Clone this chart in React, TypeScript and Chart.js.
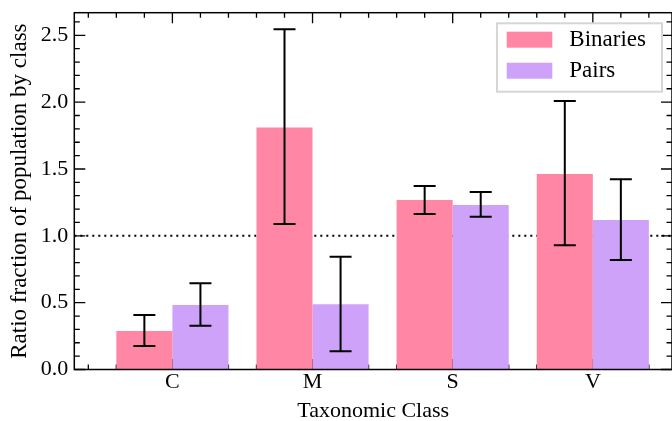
import { useEffect, useRef } from 'react';
import { Chart, registerables } from 'chart.js';

Chart.register(...registerables);

const categories = ['C', 'M', 'S', 'V'];
const seriesLabels = ['Binaries', 'Pairs'];
const binaries = [0.288, 1.81, 1.268, 1.462];
const binariesLow = [0.176, 1.088, 1.163, 0.929];
const binariesHigh = [0.408, 2.545, 1.372, 2.008];
const pairs = [0.482, 0.488, 1.23, 1.118];
const pairsLow = [0.328, 0.136, 1.143, 0.819];
const pairsHigh = [0.645, 0.844, 1.328, 1.423];
const yTicks = [0, 0.5, 1.0, 1.5, 2.0, 2.5];
const referenceLevel = 1.0;

const FONT = '"Liberation Serif", "Times New Roman", serif';
const PINK = '#FF86A4';
const PURPLE = '#CFA2FA';

export default function App() {
  const ref = useRef<HTMLCanvasElement>(null);

  useEffect(() => {
    const canvas = ref.current;
    if (!canvas) return;
    const errLow = [binariesLow, pairsLow];
    const errHigh = [binariesHigh, pairsHigh];

    const xTickList = (x: any) => {
      const out: [number, boolean][] = [];
      for (let k = Math.ceil(x.min * 5 - 1e-9); k <= Math.floor(x.max * 5 + 1e-9); k++) {
        out.push([k / 5, k % 5 === 0]);
      }
      return out;
    };
    const yTickList = (y: any) => {
      const out: [number, boolean][] = [];
      for (let k = 0; k <= Math.floor(y.max * 10 + 1e-9); k++) {
        out.push([k / 10, k % 5 === 0]);
      }
      return out;
    };

    const plugin = {
      id: 'sciencePlot',
      beforeDatasetsDraw(chart: any) {
        const { ctx, chartArea: a, scales } = chart;
        const x = scales.x;
        const y = scales.y;
        ctx.save();
        ctx.strokeStyle = '#000';
        ctx.beginPath();
        ctx.setLineDash([2, 4]);
        ctx.lineWidth = 2;
        const yy = y.getPixelForValue(referenceLevel);
        ctx.moveTo(a.left, yy);
        ctx.lineTo(a.right, yy);
        ctx.stroke();
        ctx.setLineDash([]);
        ctx.beginPath();
        ctx.lineWidth = 1.3;
        xTickList(x).forEach(([v, major]) => {
          const px = x.getPixelForValue(v);
          ctx.moveTo(px, a.bottom);
          ctx.lineTo(px, a.bottom - (major ? 10.5 : 5));
        });
        ctx.stroke();
        ctx.restore();
      },
      afterDatasetsDraw(chart: any) {
        const { ctx, chartArea: a, scales } = chart;
        const x = scales.x;
        const y = scales.y;
        ctx.save();
        ctx.strokeStyle = '#000';
        ctx.lineWidth = 2;
        chart.data.datasets.forEach((_: any, i: number) => {
          const meta = chart.getDatasetMeta(i);
          meta.data.forEach((bar: any, j: number) => {
            const lo = y.getPixelForValue(errLow[i][j]);
            const hi = y.getPixelForValue(errHigh[i][j]);
            ctx.beginPath();
            ctx.moveTo(bar.x, lo);
            ctx.lineTo(bar.x, hi);
            ctx.moveTo(bar.x - 11, lo);
            ctx.lineTo(bar.x + 11, lo);
            ctx.moveTo(bar.x - 11, hi);
            ctx.lineTo(bar.x + 11, hi);
            ctx.stroke();
          });
        });
        ctx.beginPath();
        ctx.lineWidth = 1.3;
        xTickList(x).forEach(([v, major]) => {
          const px = x.getPixelForValue(v);
          ctx.moveTo(px, a.top);
          ctx.lineTo(px, a.top + (major ? 10.5 : 5));
        });
        yTickList(y).forEach(([v, major]) => {
          const py = y.getPixelForValue(v);
          const len = major ? 11 : 5.5;
          ctx.moveTo(a.left, py);
          ctx.lineTo(a.left + len, py);
          ctx.moveTo(a.right, py);
          ctx.lineTo(a.right - len, py);
        });
        ctx.stroke();
        ctx.lineWidth = 1.5;
        ctx.strokeRect(a.left, a.top, a.right - a.left, a.bottom - a.top);
        const lw = 165;
        const lh = 68.4;
        const lx = a.right - 10 - lw;
        const ly = a.top + 10.6;
        ctx.fillStyle = '#fff';
        ctx.fillRect(lx, ly, lw, lh);
        ctx.strokeStyle = '#d6d6d6';
        ctx.lineWidth = 2;
        ctx.strokeRect(lx, ly, lw, lh);
        ctx.font = `23px ${FONT}`;
        ctx.textBaseline = 'middle';
        ctx.textAlign = 'left';
        chart.data.datasets.forEach((ds: any, i: number) => {
          const sy = ly + 8.4 + i * 31;
          ctx.fillStyle = ds.backgroundColor;
          ctx.fillRect(lx + 9.7, sy, 45.6, 16);
          ctx.fillStyle = '#000';
          ctx.fillText(ds.label, lx + 72.3, sy + 8.5);
        });
        ctx.restore();
      },
    };

    const chart = new Chart(canvas, {
      type: 'bar',
      data: {
        datasets: [
          {
            label: seriesLabels[0],
            data: binaries.map((v, i) => ({ x: i, y: v })),
            backgroundColor: PINK,
            borderWidth: 0,
            categoryPercentage: 0.8,
            barPercentage: 1.0,
          },
          {
            label: seriesLabels[1],
            data: pairs.map((v, i) => ({ x: i, y: v })),
            backgroundColor: PURPLE,
            borderWidth: 0,
            categoryPercentage: 0.8,
            barPercentage: 1.0,
          },
        ],
      } as any,
      options: {
        responsive: false,
        animation: false,
        layout: { padding: { top: 12.7, left: 0, right: 0, bottom: 0 } },
        plugins: { legend: { display: false }, tooltip: { enabled: false } },
        scales: {
          x: {
            type: 'linear',
            offset: false,
            min: -0.7,
            max: 3.565,
            grid: { display: false, drawTicks: false, offset: false },
            border: { display: false },
            afterBuildTicks: (s: any) => {
              s.ticks = categories.map((_, i) => ({ value: i }));
            },
            ticks: {
              callback: (v: any) => categories[v] ?? '',
              font: { family: FONT, size: 22 },
              color: '#000',
              padding: 0,
              maxRotation: 0,
              autoSkip: false,
            },
            title: {
              display: true,
              text: 'Taxonomic Class',
              font: { family: FONT, size: 22, lineHeight: 0.85 },
              color: '#000',
              padding: 0,
            },
            afterFit: (s: any) => {
              s.height = 51.5;
              s.paddingLeft = 0;
              s.paddingRight = 0;
            },
          },
          y: {
            type: 'linear',
            min: 0,
            max: 2.669,
            grid: { display: false, drawTicks: false },
            border: { display: false },
            afterBuildTicks: (s: any) => {
              s.ticks = yTicks.map((v) => ({ value: v }));
            },
            ticks: {
              callback: (v: any) => Number(v).toFixed(1),
              font: { family: FONT, size: 22 },
              color: '#000',
              padding: 6,
            },
            title: {
              display: true,
              text: 'Ratio fraction of population by class',
              font: { family: FONT, size: 23, lineHeight: 1.2 },
              color: '#000',
              padding: { top: 5.8, bottom: 0 },
            },
            afterFit: (s: any) => {
              s.width = 74.3;
              s.paddingTop = 0;
              s.paddingBottom = 0;
            },
          },
        },
      } as any,
      plugins: [plugin],
    });

    return () => chart.destroy();
  }, []);

  return (
    <div style={{ position: 'absolute', left: 0, top: 0, width: 672, height: 421, background: '#fff' }}>
      <canvas ref={ref} width={672} height={421} style={{ display: 'block', width: 672, height: 421 }} />
    </div>
  );
}
